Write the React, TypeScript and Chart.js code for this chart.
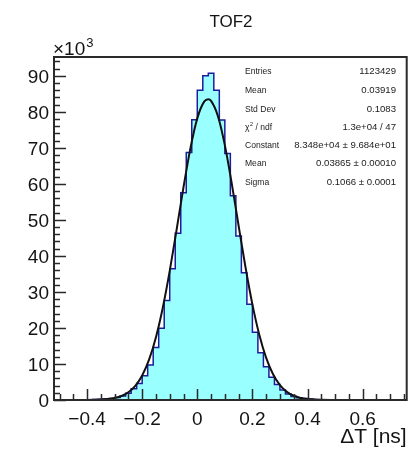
import React, { useEffect, useRef } from 'react';
import { Chart, registerables } from 'chart.js';

Chart.register(...registerables);

// Histogram: bin layout and bin contents (in units of 10^3 entries)
const binStart = -0.52;
const binWidth = 0.02;
const binCounts = [
  0.01, 0.01, 0.02, 0.02, 0.03, 0.05, 0.08, 0.12, 0.2, 0.3,
  0.45, 0.7, 1.1, 1.9, 3.1, 4.6, 6.7, 9.7, 14.6, 19.9,
  27.6, 36.4, 46.3, 57.5, 68.7, 77.8, 86.0, 90.0, 90.7, 86.0,
  77.7, 68.4, 56.7, 45.5, 35.3, 26.6, 18.8, 13.1, 9.2, 6.3,
  4.3, 2.8, 1.7, 1.0, 0.6, 0.4, 0.25, 0.15, 0.1, 0.06,
  0.04, 0.03, 0.02, 0.02, 0.02, 0.01, 0.01, 0.01, 0.01, 0.01,
  0.01, 0.01, 0.01, 0.01,
];

// Gaussian fit curve (units of 10^3)
const fitX = [
  -0.52, -0.45, -0.4, -0.375, -0.35, -0.325, -0.3, -0.275, -0.25, -0.225,
  -0.2, -0.175, -0.15, -0.125, -0.1, -0.075, -0.05, -0.025, 0, 0.025,
  0.04, 0.05, 0.075, 0.1, 0.125, 0.15, 0.175, 0.2, 0.225, 0.25,
  0.275, 0.3, 0.325, 0.35, 0.375, 0.4, 0.425, 0.45, 0.5, 0.55, 0.76,
];
const fitY = [
  0, 0.002, 0.018, 0.045, 0.108, 0.248, 0.537, 1.1, 2.135, 3.92,
  6.81, 11.2, 17.44, 25.69, 35.83, 47.29, 59.07, 69.85, 78.17, 82.8,
  83.47, 83.01, 78.76, 70.74, 60.13, 48.37, 36.84, 26.55, 18.11, 11.69,
  7.15, 4.13, 2.26, 1.17, 0.575, 0.267, 0.117, 0.049, 0.007, 0.001, 0,
];

const xMin = -0.52;
const xMax = 0.76;
const yMin = 0;
const yMax = 95.2;
const xMajorStep = 0.2;
const xMinorStep = 0.05;
const yMajorStep = 10;
const yMinorStep = 2;

const titleText = 'TOF2';
const xAxisTitle = 'ΔT [ns]';
const yExponentBase = '×10';
const yExponent = '3';

const statLabels = ['Entries', 'Mean', 'Std Dev', 'χ2 / ndf', 'Constant', 'Mean', 'Sigma'];
const statValues = [
  '1123429',
  '0.03919',
  '0.1083',
  '1.3e+04 / 47',
  '8.348e+04 ± 9.684e+01',
  '0.03865 ± 0.00010',
  '0.1066 ± 0.0001',
];

const FONT = '"Liberation Sans", Arial, Helvetica, sans-serif';

function fmtTick(v: number): string {
  const r = Math.round(v * 10) / 10;
  if (Math.abs(r) < 1e-9) return '0';
  const s = Math.abs(r).toString();
  return r < 0 ? '\u2212' + s : s;
}

const rootPlugin = {
  id: 'rootStyle',
  afterDraw(chart: any) {
    const ctx = chart.ctx as CanvasRenderingContext2D;
    const { left, right, top, bottom } = chart.chartArea;
    const xs = chart.scales.x;
    const ys = chart.scales.y;
    ctx.save();

    // ticks (inward, ROOT style)
    ctx.strokeStyle = '#2a2a2a';
    ctx.lineWidth = 1.5;
    ctx.beginPath();
    const nY = Math.round((yMax - yMin) / yMinorStep);
    for (let i = 0; i <= nY; i++) {
      const v = yMin + i * yMinorStep;
      if (v > yMax) break;
      const major = Math.abs(v / yMajorStep - Math.round(v / yMajorStep)) < 1e-6;
      const py = Math.round(ys.getPixelForValue(v)) + 0.5;
      ctx.moveTo(left, py);
      ctx.lineTo(left + (major ? 12 : 6), py);
    }
    const xStart = Math.ceil(xMin / xMinorStep - 1e-6);
    const xEnd = Math.floor(xMax / xMinorStep + 1e-6);
    for (let i = xStart; i <= xEnd; i++) {
      const v = i * xMinorStep;
      const major = Math.abs(v / xMajorStep - Math.round(v / xMajorStep)) < 1e-6;
      const px = Math.round(xs.getPixelForValue(v)) + 0.5;
      ctx.moveTo(px, bottom);
      ctx.lineTo(px, bottom - (major ? 11 : 6));
    }
    ctx.stroke();

    // frame
    ctx.strokeStyle = '#2a2a2a';
    ctx.lineWidth = 2;
    ctx.strokeRect(left, top, right - left, bottom - top);

    ctx.fillStyle = '#141414';
    // title
    ctx.font = `17px ${FONT}`;
    ctx.textAlign = 'center';
    ctx.textBaseline = 'alphabetic';
    ctx.fillText(titleText, 231, 27);

    // exponent label
    ctx.textAlign = 'left';
    ctx.font = `19px ${FONT}`;
    ctx.fillText(yExponentBase, left - 1, top - 2);
    const w = ctx.measureText(yExponentBase).width;
    ctx.font = `13px ${FONT}`;
    ctx.fillText(yExponent, left - 1 + w + 1, top - 10);

    // x axis title
    ctx.font = `21px ${FONT}`;
    ctx.textAlign = 'right';
    ctx.fillText(xAxisTitle, right, 443);

    // stats
    const rowY = [74, 93, 112, 130, 148, 166, 185];
    const labelX = 245;
    ctx.fillStyle = '#222';
    for (let i = 0; i < statLabels.length; i++) {
      ctx.textAlign = 'left';
      const lab = statLabels[i];
      ctx.save();
      ctx.translate(labelX, rowY[i]);
      ctx.scale(0.9, 1);
      ctx.font = `9.5px ${FONT}`;
      if (lab.startsWith('χ2')) {
        ctx.fillText('χ', 0, 0);
        const cw = ctx.measureText('χ').width;
        ctx.font = `6px ${FONT}`;
        ctx.fillText('2', cw + 0.5, -4);
        ctx.font = `9.5px ${FONT}`;
        ctx.fillText(' / ndf', cw + 4, 0);
      } else {
        ctx.fillText(lab, 0, 0);
      }
      ctx.restore();
      ctx.font = `9.6px ${FONT}`;
      ctx.textAlign = 'right';
      ctx.fillText(statValues[i], 396, rowY[i]);
    }
    ctx.restore();
  },
};

export default function App() {
  const ref = useRef<HTMLCanvasElement | null>(null);

  useEffect(() => {
    if (!ref.current) return;
    const histPts = binCounts.map((c, i) => ({ x: binStart + i * binWidth, y: c }));
    histPts.push({ x: binStart + binCounts.length * binWidth, y: binCounts[binCounts.length - 1] });
    const fitPts = fitX.map((x, i) => ({ x, y: fitY[i] }));

    const chart = new Chart(ref.current, {
      type: 'line',
      data: {
        datasets: [
          {
            label: 'fit',
            data: fitPts,
            borderColor: '#111111',
            borderWidth: 2,
            pointRadius: 0,
            fill: false,
            cubicInterpolationMode: 'monotone',
            order: 0,
          },
          {
            label: 'hist',
            data: histPts,
            borderColor: '#1c1c9e',
            borderWidth: 1.5,
            backgroundColor: 'rgb(153,255,255)',
            pointRadius: 0,
            stepped: 'before',
            fill: 'origin',
            order: 1,
          },
        ],
      },
      options: {
        animation: false,
        responsive: false,
        maintainAspectRatio: false,
        devicePixelRatio: 1,
        layout: { padding: { left: 0, right: 11.3, top: 57, bottom: 0 } },
        plugins: {
          legend: { display: false },
          tooltip: { enabled: false },
          title: { display: false },
        },
        scales: {
          x: {
            type: 'linear',
            min: xMin,
            max: xMax,
            grid: { display: false, drawTicks: false },
            border: { display: false },
            ticks: {
              stepSize: xMajorStep,
              includeBounds: false,
              autoSkip: false,
              maxRotation: 0,
              padding: 8,
              color: '#141414',
              font: { family: FONT, size: 19 },
              callback: (v: any) => fmtTick(Number(v)),
            },
            afterFit: (s: any) => {
              s.height = 52;
            },
          },
          y: {
            type: 'linear',
            min: yMin,
            max: yMax,
            grid: { display: false, drawTicks: false },
            border: { display: false },
            ticks: {
              stepSize: yMajorStep,
              includeBounds: false,
              padding: 5,
              labelOffset: 2,
              color: '#141414',
              font: { family: FONT, size: 19 },
              callback: (v: any) => String(Math.round(Number(v))),
            },
            afterFit: (s: any) => {
              s.width = 54;
            },
          },
        },
      },
      plugins: [rootPlugin],
    } as any);
    return () => chart.destroy();
  }, []);

  return (
    <div style={{ position: 'fixed', left: 0, top: 0, width: 418, height: 452, background: '#fff' }}>
      <canvas ref={ref} width={418} height={452} style={{ width: 418, height: 452, display: 'block' }} />
    </div>
  );
}
